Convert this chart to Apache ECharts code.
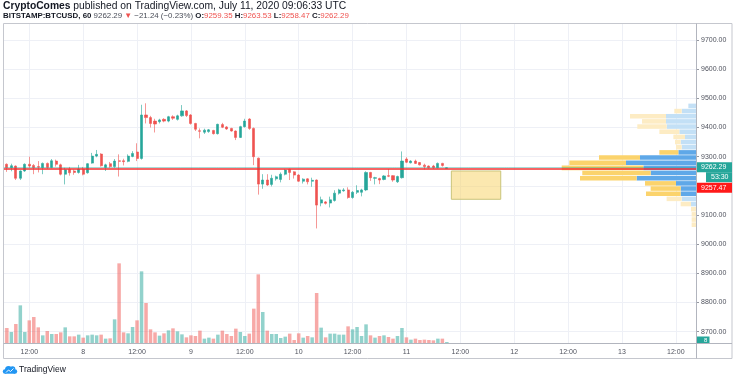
<!DOCTYPE html>
<html><head><meta charset="utf-8">
<script src="https://cdn.jsdelivr.net/npm/echarts@6/dist/echarts.min.js"></script>
<style>html,body{margin:0;padding:0;background:#fff}#c{width:736px;height:379px}</style>
</head><body><div id="c"></div>
<script>
// ---------------- DATA ----------------
// hourly bars, hour counted from Jul 7 00:00 UTC
const START_HOUR = 6;
const FIRST_DAY = 7;
// [open, high, low, close]
const ohlc = [
 [9283,9288,9270,9274],[9274,9277,9248,9262],[9262,9276,9250,9269],[9268,9270,9220,9226],[9226,9253,9220,9251],
 [9251,9277,9248,9274],[9274,9300,9262,9268],[9270,9275,9240,9262],[9266,9285,9246,9264],[9262,9280,9240,9277],
 [9277,9280,9258,9263],[9263,9292,9260,9286],[9285,9290,9266,9274],[9272,9276,9236,9240],[9240,9262,9205,9255],
 [9257,9265,9235,9245],[9251,9256,9238,9246],[9246,9272,9242,9258],[9257,9265,9236,9240],[9245,9278,9242,9276],
 [9278,9313,9276,9302],[9302,9323,9298,9308],[9309,9312,9266,9269],[9263,9276,9251,9272],[9276,9282,9262,9266],
 [9266,9292,9262,9285],[9286,9308,9232,9284],[9286,9293,9270,9283],[9284,9308,9281,9302],[9301,9319,9298,9311],
 [9316,9346,9285,9294],[9294,9478,9290,9443],[9443,9483,9414,9434],[9434,9440,9400,9414],[9422,9430,9383,9412],
 [9420,9430,9414,9426],[9428,9432,9418,9422],[9422,9440,9418,9437],[9437,9442,9426,9432],[9428,9444,9424,9440],
 [9440,9477,9437,9457],[9457,9460,9436,9441],[9443,9446,9410,9414],[9414,9416,9388,9394],[9389,9397,9363,9387],
 [9384,9396,9378,9391],[9386,9395,9382,9392],[9390,9392,9376,9379],[9379,9413,9376,9411],[9410,9416,9398,9401],
 [9402,9405,9392,9395],[9397,9399,9386,9388],[9388,9390,9357,9366],[9366,9406,9364,9403],[9403,9430,9400,9422],
 [9429,9432,9392,9397],[9397,9400,9271,9300],[9295,9297,9170,9206],[9206,9240,9190,9220],[9220,9240,9200,9203],
 [9205,9238,9198,9226],[9224,9235,9218,9231],[9222,9246,9212,9240],[9240,9258,9236,9254],[9257,9259,9220,9246],
 [9248,9250,9225,9237],[9237,9240,9214,9216],[9216,9226,9208,9223],[9224,9226,9205,9214],[9216,9228,9197,9219],
 [9220,9222,9054,9134],[9141,9163,9130,9152],[9145,9148,9136,9140],[9141,9163,9126,9152],[9150,9185,9146,9175],
 [9175,9190,9170,9186],[9183,9192,9180,9186],[9186,9195,9156,9160],[9160,9182,9156,9178],[9178,9202,9172,9184],
 [9178,9190,9164,9186],[9186,9250,9182,9246],[9246,9248,9217,9228],[9226,9231,9205,9228],[9225,9228,9206,9220],
 [9222,9237,9219,9234],[9235,9258,9230,9233],[9235,9237,9214,9220],[9214,9235,9210,9232],[9228,9318,9225,9285],
 [9292,9298,9278,9281],[9279,9288,9277,9285],[9285,9290,9275,9277],[9280,9282,9270,9272],[9271,9276,9256,9266],
 [9268,9270,9259,9262],[9268,9272,9258,9262],[9262,9280,9260,9277],[9277,9279,9266,9270],[9259.35,9263.53,9258.47,9262.29]
];
const volume = [
 300,300,220,380,753,220,453,520,313,153,
 240,180,180,213,313,133,133,167,107,153,
 167,153,167,87,93,473,1593,213,193,320,
 453,1433,800,273,213,147,193,253,293,233,
 173,113,153,140,247,87,107,87,167,247,
 180,140,287,220,140,187,687,1373,620,247,
 180,180,100,127,187,60,193,107,140,113,
 1000,307,113,187,187,167,167,333,273,320,
 140,373,153,107,140,153,120,87,140,300,
 113,67,87,60,67,60,53,87,87,20
];
// Volume profile (visible range), rows top -> bottom
const profileRows = ['9474','9457','9439','9421','9404','9386','9368','9350','9333','9315','9297','9280',
                     '9262','9244','9226','9209','9191','9173','9156','9138','9120','9102','9085','9067'];
const profileUp   = [153,287,600,600,587,333,220,307,287,353,1120,1400,1053,907,1187,400,307,307,287,100,0,0,0,0];
const profileDown = [0,147,720,480,587,400,233,113,113,380,820,1133,1633,1367,1133,620,600,693,300,207,100,87,87,87];
const profileHigh = 9483, profileLow = 9058;
const valueArea = [9, 17];           // first/last row index of the value area
const lastPrice = 9262.29;
const linePrice = 9257.47;
const zoneHours = [106, 117];
const zonePrices = [9154, 9251];
const volumeLabel = '8';

// ---------------- LAYOUT ----------------
// x axis unit = half a day (12 h); visible window in those units
const X_MIN = 6.254 / 12, X_MAX = 160.49 / 12;
const GRID_TOP = 24, GRID_BOT = 343, AXIS_X = 696, GRID_LEFT = 3.5;
const PRICE_MIN = 8661.3, PRICE_MAX = 9754.9;
const priceToY = p => GRID_TOP + (PRICE_MAX - p) / (PRICE_MAX - PRICE_MIN) * (GRID_BOT - GRID_TOP);
const hx = h => h / 12;

const UP = '#26a69a', DOWN = '#ef5350';
const FONT = '"Liberation Sans", Arial, sans-serif';

const candleData = ohlc.map((d, i) => [hx(START_HOUR + i), d[0], d[3], d[2], d[1]]);
const volData = volume.map((v, i) => ({
  value: [hx(START_HOUR + i), v],
  itemStyle: { color: ohlc[i][3] >= ohlc[i][0] ? 'rgba(38,166,154,0.5)' : 'rgba(239,83,80,0.5)' }
}));
const inVA = i => i >= valueArea[0] && i <= valueArea[1];

const chart = echarts.init(document.getElementById('c'), null, { renderer: 'canvas', width: 736, height: 379 });
const pTop = priceToY(profileHigh), pBot = priceToY(profileLow);

chart.setOption({
  animation: false,
  backgroundColor: '#ffffff',
  grid: [
    { left: GRID_LEFT, right: 736 - AXIS_X, top: GRID_TOP, bottom: 379 - GRID_BOT },
    { left: 400, right: 736 - AXIS_X, top: pTop, height: pBot - pTop }
  ],
  xAxis: [
    { type: 'value', gridIndex: 0, min: X_MIN, max: X_MAX, splitNumber: 13, minInterval: 1, maxInterval: 1,
      axisLine: { show: false }, axisTick: { show: false },
      splitLine: { show: true, showMinLine: false, showMaxLine: false, lineStyle: { color: '#eef0f6', width: 1 } },
      axisLabel: { show: true, color: '#50535e', fontSize: 7, fontFamily: FONT, margin: 6,
        showMinLabel: false, showMaxLabel: false,
        formatter: v => (Math.abs(v - Math.round(v)) > 1e-6 ? '' :
                         (Math.round(v) % 2 === 0 ? String(FIRST_DAY + Math.round(v) / 2) : '12:00')) } },
    { type: 'value', gridIndex: 1, inverse: true, min: 0, max: 5920, show: false }
  ],
  yAxis: [
    { type: 'value', gridIndex: 0, position: 'right', min: PRICE_MIN, max: PRICE_MAX, splitNumber: 10,
      axisLine: { show: false },
      axisTick: { show: true, length: 3, lineStyle: { color: '#9598a1' } },
      splitLine: { show: true, showMinLine: false, showMaxLine: false, lineStyle: { color: '#eef0f6', width: 1 } },
      axisLabel: { color: '#50535e', fontSize: 7, fontFamily: FONT, margin: 5,
        showMinLabel: false, showMaxLabel: false, formatter: v => v.toFixed(2) } },
    { type: 'value', gridIndex: 0, min: 0, max: 6380, show: false },
    { type: 'category', gridIndex: 1, inverse: true, data: profileRows, show: false }
  ],
  series: [
    { type: 'bar', name: 'vpUp', xAxisIndex: 1, yAxisIndex: 2, stack: 'vp', barCategoryGap: '12%', z: 1, silent: true,
      data: profileUp.map((v, i) => ({ value: v, itemStyle: { color: inVA(i) ? '#5fa8e8' : '#c3e0f6' } })) },
    { type: 'bar', name: 'vpDown', xAxisIndex: 1, yAxisIndex: 2, stack: 'vp', barCategoryGap: '12%', z: 1, silent: true,
      data: profileDown.map((v, i) => ({ value: v, itemStyle: { color: inVA(i) ? '#fbd36c' : '#fdecc4' } })) },
    { type: 'bar', name: 'volume', xAxisIndex: 0, yAxisIndex: 1, barWidth: 3.5, z: 2, silent: true, data: volData },
    { type: 'candlestick', name: 'BTCUSD', xAxisIndex: 0, yAxisIndex: 0, barWidth: 2.6, z: 3, silent: true,
      encode: { x: 0, y: [1, 2, 3, 4] },
      itemStyle: { color: UP, color0: DOWN, borderColor: 'rgba(38,166,154,0.6)', borderColor0: 'rgba(239,83,80,0.6)', borderWidth: 1 },
      data: candleData,
      markLine: { silent: true, symbol: ['none', 'none'], label: { show: false },
        data: [
          { yAxis: lastPrice, lineStyle: { color: UP, type: 'dotted', width: 1, opacity: 0.8 } },
          { yAxis: linePrice, lineStyle: { color: '#f23030', type: 'solid', width: 1.5 } }
        ] },
      markArea: { silent: true, label: { show: false },
        itemStyle: { color: 'rgba(247,214,110,0.55)', borderColor: '#c9c47a', borderWidth: 1 },
        data: [[{ xAxis: hx(zoneHours[0]), yAxis: zonePrices[1] }, { xAxis: hx(zoneHours[1]), yAxis: zonePrices[0] }]] }
    }
  ],
  graphic: [
    // mask left of pane + frame
    { type: 'rect', z: 100, shape: { x: 0, y: 0, width: 3.5, height: 379 }, style: { fill: '#fff' } },
    { type: 'rect', z: 101, shape: { x: 3.5, y: 23.5, width: 728.5, height: 335 }, style: { fill: null, stroke: '#c5c7ce', lineWidth: 1 } },
    { type: 'line', z: 101, shape: { x1: AXIS_X + 0.5, y1: 23.5, x2: AXIS_X + 0.5, y2: 358.5 }, style: { stroke: '#b2b5be', lineWidth: 1 } },
    { type: 'line', z: 101, shape: { x1: 3.5, y1: GRID_BOT + 0.5, x2: 732, y2: GRID_BOT + 0.5 }, style: { stroke: '#b2b5be', lineWidth: 1 } },
    // price labels
    { type: 'rect', z: 102, shape: { x: AXIS_X + 1, y: priceToY(lastPrice) - 5.5, width: 35, height: 10 }, style: { fill: UP } },
    { type: 'text', z: 103, x: AXIS_X + 5, y: priceToY(lastPrice) - 0.5, style: { text: lastPrice.toFixed(2), fill: '#fff', font: '7px ' + FONT, verticalAlign: 'middle' } },
    { type: 'rect', z: 102, shape: { x: 706, y: priceToY(lastPrice) + 4.5, width: 26, height: 10 }, style: { fill: UP } },
    { type: 'text', z: 103, x: 711, y: priceToY(lastPrice) + 9.5, style: { text: '53:30', fill: '#fff', font: '7px ' + FONT, verticalAlign: 'middle' } },
    { type: 'rect', z: 102, shape: { x: AXIS_X + 1, y: priceToY(lastPrice) + 15, width: 35, height: 10 }, style: { fill: '#ff1a1a' } },
    { type: 'text', z: 103, x: AXIS_X + 5, y: priceToY(lastPrice) + 20, style: { text: linePrice.toFixed(2), fill: '#fff', font: '7px ' + FONT, verticalAlign: 'middle' } },
    { type: 'rect', z: 102, shape: { x: AXIS_X + 1, y: GRID_BOT - 6.5, width: 12.5, height: 6.5 }, style: { fill: UP } },
    { type: 'text', z: 103, x: AXIS_X + 8, y: GRID_BOT - 3, style: { text: volumeLabel, fill: '#fff', font: '6px ' + FONT, verticalAlign: 'middle' } },
    // header
    { type: 'text', z: 110, x: 3, y: 6, style: { text: '{b|CryptoComes} published on TradingView.com, July 11, 2020 09:06:33 UTC',
        fill: '#131722', font: '10.3px ' + FONT, verticalAlign: 'middle',
        rich: { b: { fontWeight: 'bold', fontSize: 10.3, fontFamily: FONT, fill: '#131722' } } } },
    { type: 'text', z: 110, x: 3, y: 15.5, style: {
        text: '{b|BITSTAMP:BTCUSD, 60} 9262.29 {r|▼} −21.24 (−0.23%) {b|O:}{r|9259.35} {b|H:}{r|9263.53} {b|L:}{r|9258.47} {b|C:}{r|9262.29}',
        fill: '#4a4e59', font: '7.9px ' + FONT, verticalAlign: 'middle',
        rich: { b: { fontWeight: 'bold', fontSize: 7.9, fontFamily: FONT, fill: '#131722' },
                r: { fontSize: 7.9, fontFamily: FONT, fill: '#ef5350' } } } },
    // logo
    { type: 'circle', z: 110, shape: { cx: 8.5, cy: 369.5, r: 3.5 }, style: { fill: '#2196f3' } },
    { type: 'circle', z: 110, shape: { cx: 12.5, cy: 369, r: 2.8 }, style: { fill: '#2196f3' } },
    { type: 'circle', z: 110, shape: { cx: 5, cy: 371.5, r: 2.2 }, style: { fill: '#2196f3' } },
    { type: 'circle', z: 110, shape: { cx: 15, cy: 371.5, r: 2.2 }, style: { fill: '#2196f3' } },
    { type: 'rect', z: 110, shape: { x: 5, y: 370, width: 10, height: 3.7 }, style: { fill: '#2196f3' } },
    { type: 'polyline', z: 111, shape: { points: [[6, 372.5], [8.5, 370], [10.5, 371.5], [13.5, 368.5]] }, style: { stroke: '#fff', lineWidth: 0.9, fill: null } },
    { type: 'text', z: 110, x: 19, y: 369.5, style: { text: 'TradingView', fill: '#131722', font: '8.5px ' + FONT, verticalAlign: 'middle' } }
  ]
});
</script>
</body></html>
